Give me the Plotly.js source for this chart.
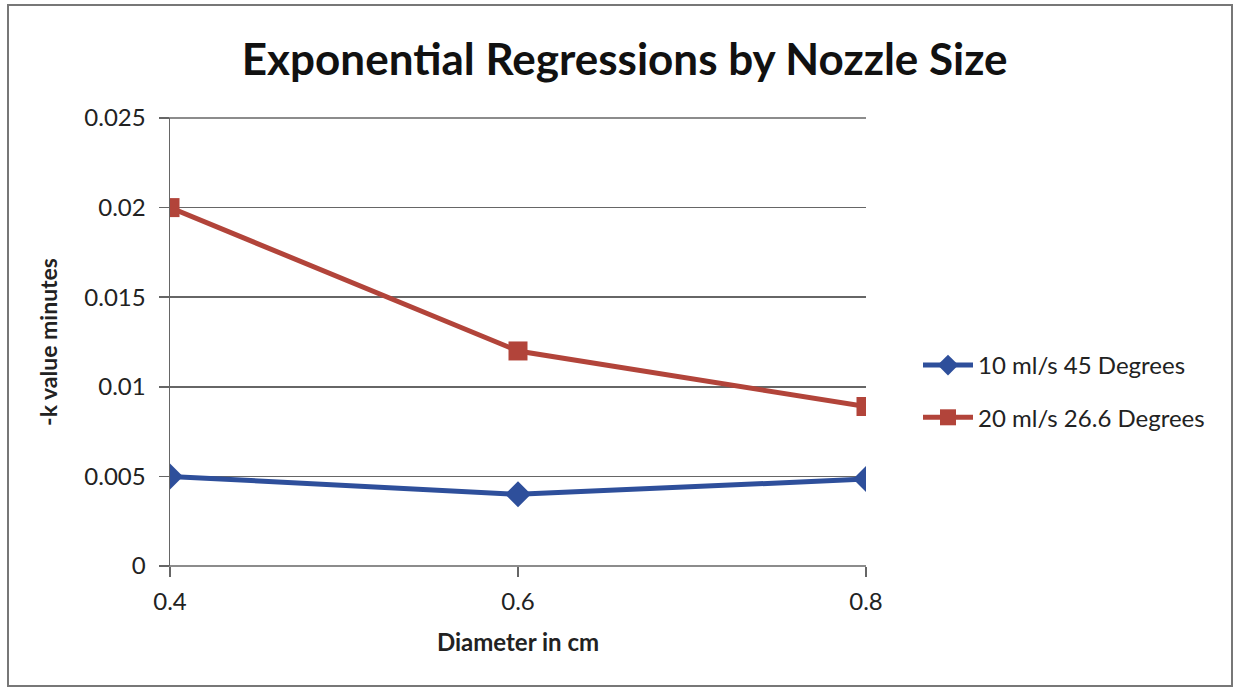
<!DOCTYPE html>
<html><head><meta charset="utf-8">
<script src="https://cdn.plot.ly/plotly-3.0.1.min.js"></script>
<style>html,body{margin:0;padding:0;background:#fff;}#chart{width:1237px;height:689px;}</style>
</head><body><div id="chart"></div>
<script>
const diameters = [0.4, 0.6, 0.8];
const series1Name = "10 ml/s 45 Degrees";
const series1 = [0.005, 0.004, 0.00485];
const series2Name = "20 ml/s 26.6 Degrees";
const series2 = [0.02, 0.012, 0.0089];
const yTicks = [0, 0.005, 0.01, 0.015, 0.02, 0.025];
const yTickText = ["0", "0.005", "0.01", "0.015", "0.02", "0.025"];
const xTicks = [0.4, 0.6, 0.8];
const xTickText = ["0.4", "0.6", "0.8"];

const FONT = "Lato, 'Open Sans', sans-serif";
const L = 170, R = 866, T = 118, B = 566, W = 1237, H = 689;
const pw = R - L, ph = B - T;
function px(x){return (x - L)/pw;}
function py(y){return (B - y)/ph;}

const traces = [
  {x: diameters, y: series1, name: series1Name, legendgroup: 'a', type: 'scatter', mode: 'lines+markers',
   line: {color: '#2E4F9B', width: 5}, marker: {symbol: 'diamond', size: 20, color: '#2E4F9B'}},
  {x: diameters, y: series2, name: series2Name, legendgroup: 'b', type: 'scatter', mode: 'lines+markers',
   line: {color: '#B2443A', width: 5}, marker: {symbol: 'square', size: 19, color: '#B2443A'}}
];

const layout = {
  width: W, height: H,
  margin: {l: L, r: W - R, t: T, b: H - B},
  paper_bgcolor: '#fff', plot_bgcolor: '#fff',
  title: {text: '<b>Exponential Regressions by Nozzle Size</b>', x: 0.505, xanchor: 'center', y: 0.913, yanchor: 'middle',
          font: {family: FONT, size: 44, color: '#111'}},
  xaxis: {range: [0.4, 0.8], tickvals: xTicks, ticktext: xTickText, showgrid: false, zeroline: false,
          showline: false, ticks: 'outside', ticklen: 10, tickcolor: '#666', tickwidth: 1.5,
          ticklabelstandoff: 4,
          tickfont: {family: FONT, size: 24, color: '#222'},
          title: {text: '<b>Diameter in cm</b>', font: {family: FONT, size: 24, color: '#222'}, standoff: 20}},
  yaxis: {range: [0, 0.025], tickvals: yTicks, ticktext: yTickText, showgrid: true, gridcolor: '#666', gridwidth: 1.5,
          zeroline: false, showline: true, linecolor: '#666', linewidth: 1.5, ticks: 'outside', ticklen: 10,
          tickcolor: '#666', tickwidth: 1.5, ticklabelstandoff: 8, tickfont: {family: FONT, size: 24, color: '#222'},
          title: {text: '<b>-k value minutes</b>', font: {family: FONT, size: 23, color: '#222'}, standoff: 20}},
  legend: {x: px(918), xanchor: 'left', y: py(343), yanchor: 'top', font: {family: FONT, size: 24, color: '#222'},
           tracegroupgap: 18, itemwidth: 50, bgcolor: 'rgba(0,0,0,0)'},
  shapes: [
    {type: 'line', xref: 'paper', yref: 'paper', x0: px(160), x1: 1, y0: 0, y1: 0, line: {color: '#666', width: 1.5}, layer: 'below'},
    {type: 'line', xref: 'paper', yref: 'paper', x0: px(160), x1: 1, y0: 1, y1: 1, line: {color: '#666', width: 1.5}, layer: 'below'},
    {type: 'rect', xref: 'paper', yref: 'paper', x0: px(8), x1: px(1232), y0: py(686), y1: py(5), line: {color: '#777', width: 2}}
  ],
  showlegend: true
};
Plotly.newPlot('chart', traces, layout, {displayModeBar: false, staticPlot: true});
</script></body></html>
